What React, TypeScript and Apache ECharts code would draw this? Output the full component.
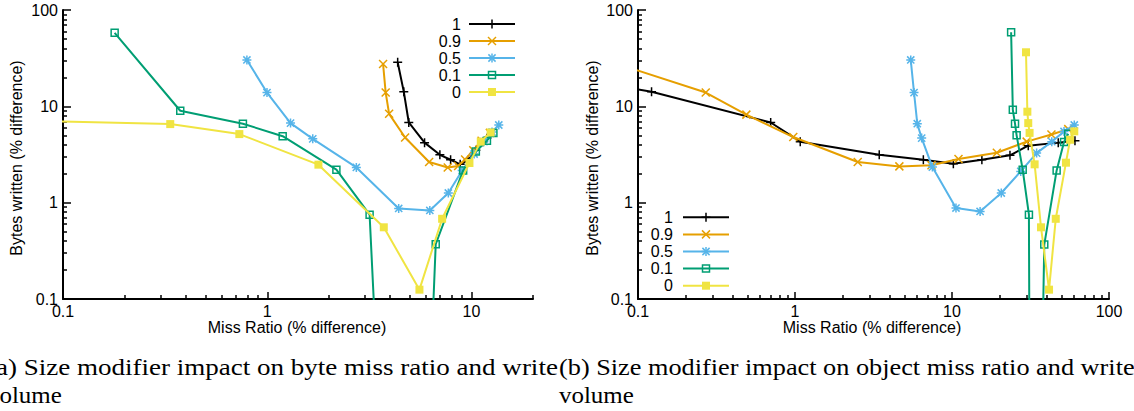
import { useEffect, useRef } from 'react';
import * as echarts from 'echarts';

// Size modifier values, one series each
const modifiers = ['1', '0.9', '0.5', '0.1', '0'];
const seriesColors = ['#000000', '#E69F00', '#56B4E9', '#009E73', '#F0E442'];

// (a) byte miss ratio [% diff] vs bytes written [% diff]
// 1e-8 stands for a zero change, which sits below the log floor
const byte1 = [[4.35, 28.7], [4.66, 14.2], [4.93, 6.8], [5.89, 4.2], [7.0, 3.14], [7.9, 2.79], [8.8, 2.5], [9.6, 2.75], [10.5, 3.5], [11.4, 4.3], [12.4, 5.1]];
const byte09 = [[3.69, 27.5], [3.8, 13.9], [3.95, 8.36], [4.73, 4.75], [6.2, 2.64], [7.65, 2.32], [8.6, 2.4], [9.3, 2.8], [10.2, 3.5], [11.2, 4.4], [12.3, 5.3]];
const byte05 = [[0.795, 30.3], [0.997, 13.9], [1.3, 6.7], [1.67, 4.6], [2.73, 2.32], [4.4, 0.87], [6.25, 0.83], [7.7, 1.26], [9.0, 2.16], [10.3, 3.2], [11.5, 4.3], [12.6, 5.4], [13.6, 6.4]];
const byte01 = [[0.179, 58], [0.375, 9.0], [0.76, 6.6], [1.19, 4.9], [2.18, 2.2], [3.17, 0.75], [4.8, 1e-8], [6.68, 0.37], [9.1, 2.16], [10.5, 3.4], [11.9, 4.4], [12.8, 5.3]];
const byte0 = [[0.05, 7.2], [0.335, 6.54], [0.73, 5.15], [1.78, 2.48], [3.72, 0.555], [5.56, 0.125], [7.18, 0.68], [9.77, 2.58], [11.1, 4.3], [12.4, 5.35]];

// (b) object miss ratio [% diff] vs bytes written [% diff]
const obj1 = [[0.09, 15.4], [0.122, 14.2], [0.7, 6.8], [1.08, 4.3], [3.44, 3.14], [6.57, 2.79], [10.2, 2.54], [15.5, 2.79], [23.4, 3.1], [30.6, 3.9], [47.5, 4.2], [60.7, 4.4]];
const obj09 = [[0.08, 26.5], [0.27, 13.9], [0.49, 8.2], [0.975, 4.8], [2.51, 2.64], [4.62, 2.38], [7.4, 2.45], [11.0, 2.84], [19.3, 3.3], [29.9, 4.3], [43, 5.1], [55, 5.8]];
const obj05 = [[5.46, 30.3], [5.73, 13.9], [6.01, 6.6], [6.41, 4.68], [7.5, 2.34], [10.6, 0.88], [15.1, 0.81], [20.6, 1.26], [27.4, 2.11], [34.6, 3.27], [43.2, 4.3], [51.7, 5.48], [60.1, 6.4]];
const obj01 = [[23.8, 58.7], [24.4, 9.2], [25.2, 6.6], [25.8, 5.0], [28.2, 2.2], [30.9, 0.75], [32.2, 1e-8], [38.7, 0.367], [46.4, 2.16], [51.7, 4.26], [55, 5.2]];
const obj0 = [[29.6, 36.4], [30.2, 8.8], [30.6, 6.7], [31.2, 5.3], [33.6, 2.5], [36.9, 0.555], [41.5, 0.125], [45.8, 0.68], [53.2, 2.6], [56.5, 4.5], [60.1, 5.5]];

const byteSeries = [byte1, byte09, byte05, byte01, byte0];
const objSeries = [obj1, obj09, obj05, obj01, obj0];

// Axis ranges and labelled ticks
const yRange = [0.1, 100];
const xRangeA = [0.1, 20];
const xRangeB = [0.1, 100];
const majorTicks = [0.1, 1, 10, 100];

const xTitle = 'Miss Ratio (% difference)';
const yTitle = 'Bytes written (% difference)';
const captionA = ['(a) Size modifier impact on byte miss ratio and write', 'volume'];
const captionB = ['(b) Size modifier impact on object miss ratio and write', 'volume'];

const SANS = 'Liberation Sans, Arial, Helvetica, sans-serif';
const SERIF = 'Liberation Serif, Times New Roman, serif';

type Marker = 'plus' | 'cross' | 'star' | 'box' | 'fill';
const markers: Marker[] = ['plus', 'cross', 'star', 'box', 'fill'];
const symbolPaths: Record<string, string> = {
  plus: 'path://M5 0V10M0 5H10',
  cross: 'path://M0 0L10 10M10 0L0 10',
  star: 'path://M5 0V10M0 5H10M1 1L9 9M9 1L1 9',
  box: 'path://M0 0H10V10H0Z',
};
const symbolSizes: Record<Marker, number> = { plus: 9, cross: 8, star: 9, box: 7, fill: 8 };

function minorTicks(lo: number, hi: number): number[] {
  const out: number[] = [];
  for (let e = -1; e <= 2; e++) {
    for (let k = 2; k <= 9; k++) {
      const v = Number((k * Math.pow(10, e)).toPrecision(6));
      if (v > lo && v <= hi) out.push(v);
    }
  }
  return out;
}

function xAxes(gridIndex: number, range: number[]) {
  const base = {
    type: 'log' as const,
    logBase: 10,
    gridIndex,
    min: range[0],
    max: range[1],
    position: 'bottom' as const,
    splitLine: { show: false },
    minorTick: { show: false },
  };
  const majors = majorTicks.filter((v) => v >= range[0] && v <= range[1]);
  return [
    {
      ...base,
      axisLine: { show: true, onZero: false, lineStyle: { color: '#000', width: 2 } },
      axisTick: { show: true, inside: true, length: 7, customValues: majors, lineStyle: { color: '#000', width: 1.5 } },
      axisLabel: {
        show: true, margin: 4, fontSize: 16, fontFamily: SANS, color: '#000',
        customValues: majors, formatter: (v: number) => String(v),
      },
    },
    {
      ...base,
      axisLine: { show: false },
      axisTick: { show: true, inside: true, length: 4, customValues: minorTicks(range[0], range[1]), lineStyle: { color: '#000', width: 1.5 } },
      axisLabel: { show: false },
    },
  ];
}

function yAxes(gridIndex: number) {
  const base = {
    type: 'log' as const,
    logBase: 10,
    gridIndex,
    min: yRange[0],
    max: yRange[1],
    position: 'left' as const,
    splitLine: { show: false },
    minorTick: { show: false },
  };
  return [
    {
      ...base,
      axisLine: { show: true, onZero: false, lineStyle: { color: '#000', width: 2 } },
      axisTick: { show: true, inside: true, length: 8, customValues: majorTicks, lineStyle: { color: '#000', width: 1.5 } },
      axisLabel: {
        show: true, margin: 5, fontSize: 16, fontFamily: SANS, color: '#000',
        customValues: majorTicks, formatter: (v: number) => String(v),
      },
    },
    {
      ...base,
      axisLine: { show: false },
      axisTick: { show: true, inside: true, length: 4, customValues: minorTicks(yRange[0], yRange[1]), lineStyle: { color: '#000', width: 1.5 } },
      axisLabel: { show: false },
    },
  ];
}

function lineSeries(data: number[][], i: number, axisIndex: number) {
  const kind = markers[i];
  const color = seriesColors[i];
  return {
    type: 'line' as const,
    name: modifiers[i],
    data,
    xAxisIndex: axisIndex,
    yAxisIndex: axisIndex,
    clip: true,
    showSymbol: true,
    symbol: kind === 'fill' ? 'rect' : symbolPaths[kind],
    symbolSize: symbolSizes[kind],
    lineStyle: { color, width: 2 },
    itemStyle: kind === 'fill'
      ? { color }
      : { color: 'none', borderColor: color, borderWidth: 1.5 },
    emphasis: { disabled: true },
    silent: true,
    z: 2 + i,
  };
}

// Legend sample: line plus the series marker drawn with graphic primitives
function legendMarker(kind: Marker, cx: number, cy: number, color: string) {
  const st = { stroke: color, lineWidth: 1.5 };
  const seg = (x1: number, y1: number, x2: number, y2: number) => ({
    type: 'line', shape: { x1: cx + x1, y1: cy + y1, x2: cx + x2, y2: cy + y2 }, style: st,
  });
  if (kind === 'plus') return [seg(-4.5, 0, 4.5, 0), seg(0, -4.5, 0, 4.5)];
  if (kind === 'cross') return [seg(-4, -4, 4, 4), seg(4, -4, -4, 4)];
  if (kind === 'star') return [seg(-4.5, 0, 4.5, 0), seg(0, -4.5, 0, 4.5), seg(-3.6, -3.6, 3.6, 3.6), seg(3.6, -3.6, -3.6, 3.6)];
  if (kind === 'box') return [{ type: 'rect', shape: { x: cx - 3.5, y: cy - 3.5, width: 7, height: 7 }, style: { fill: 'none', ...st } }];
  return [{ type: 'rect', shape: { x: cx - 4, y: cy - 4, width: 8, height: 8 }, style: { fill: color } }];
}

function legend(textRight: number, lineX1: number, lineX2: number, top: number, step: number) {
  const els: any[] = [];
  modifiers.forEach((label, i) => {
    const y = top + i * step;
    const color = seriesColors[i];
    els.push({
      type: 'text', x: textRight, y,
      style: { text: label, fontSize: 16, fontFamily: SANS, fill: '#000', align: 'right', verticalAlign: 'middle' },
    });
    els.push({ type: 'line', shape: { x1: lineX1, y1: y, x2: lineX2, y2: y }, style: { stroke: color, lineWidth: 2 } });
    els.push(...legendMarker(markers[i], (lineX1 + lineX2) / 2, y, color));
  });
  return els;
}

function caption(lines: string[], x: number, scales: number[]) {
  return lines.map((t, i) => ({
    type: 'text', x, y: 367 + i * 28, scaleX: scales[i],
    style: { text: t, fontSize: 24, fontFamily: SERIF, fill: '#000', align: 'left', verticalAlign: 'middle' },
  }));
}

function axisTitles(xCenter: number, yTitleX: number) {
  return [
    {
      type: 'text', x: xCenter, y: 327,
      style: { text: xTitle, fontSize: 16, fontFamily: SANS, fill: '#000', align: 'center', verticalAlign: 'middle' },
    },
    {
      type: 'text', x: yTitleX, y: 158, rotation: Math.PI / 2,
      style: { text: yTitle, fontSize: 16, fontFamily: SANS, fill: '#000', align: 'center', verticalAlign: 'middle' },
    },
  ];
}

export default function App() {
  const ref = useRef<HTMLDivElement>(null);

  useEffect(() => {
    if (!ref.current) return;
    const chart = echarts.init(ref.current, null, { renderer: 'svg' });
    chart.setOption({
      animation: false,
      backgroundColor: '#ffffff',
      grid: [
        { left: 63, top: 10, width: 470, height: 289 },
        { left: 638, top: 10, width: 471, height: 289 },
      ],
      xAxis: [...xAxes(0, xRangeA), ...xAxes(1, xRangeB)],
      yAxis: [...yAxes(0), ...yAxes(1)],
      series: [
        ...byteSeries.map((d, i) => lineSeries(d, i, 0)),
        ...objSeries.map((d, i) => lineSeries(d, i, 2)),
      ],
      graphic: [
        ...axisTitles(297, 16),
        ...axisTitles(872, 592),
        ...legend(461, 469, 515, 24, 17),
        ...legend(673, 683, 729, 217.3, 17.1),
        ...caption(captionA, -13, [1.126, 1.04]),
        ...caption(captionB, 559, [1.095, 1.04]),
      ],
    });
    return () => chart.dispose();
  }, []);

  return (
    <div
      ref={ref}
      style={{ position: 'absolute', left: 0, top: 0, width: 1134, height: 411, background: '#fff' }}
    />
  );
}
